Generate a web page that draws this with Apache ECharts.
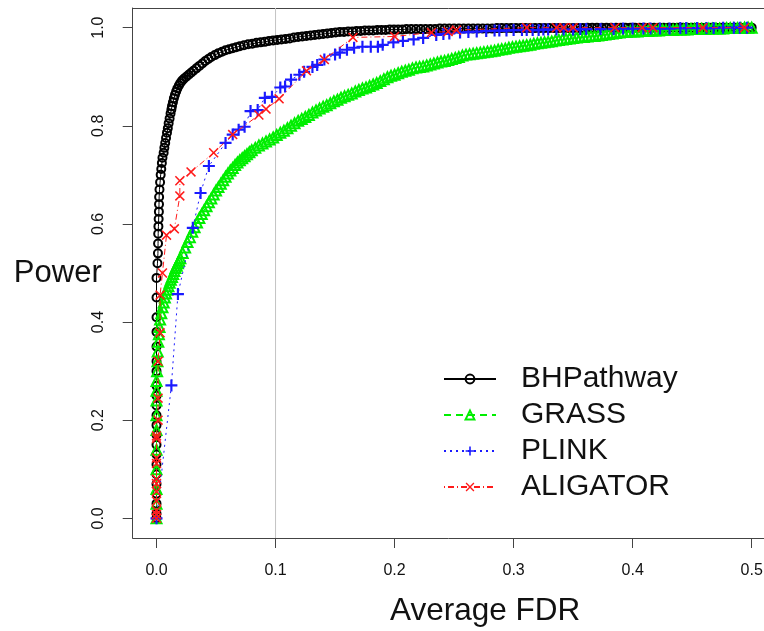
<!DOCTYPE html>
<html>
<head>
<meta charset="utf-8">
<script src="https://cdn.jsdelivr.net/npm/echarts@6/dist/echarts.min.js"></script>
<style>html,body{margin:0;padding:0;background:#fff}#chart{width:764px;height:631px}</style>
</head>
<body>
<div id="chart"></div>
<script>
const xTicks = [0, 0.1, 0.2, 0.3, 0.4, 0.5];
const yTicks = [0, 0.2, 0.4, 0.6, 0.8, 1.0];
const refLineX = [0.1];
const seriesNames = ['BHPathway', 'GRASS', 'PLINK', 'ALIGATOR'];

const bhPathway = [
[0,0],[0,0.01],[0,0.03],[0,0.05],[0,0.07],[0,0.09],[0,0.11],[0,0.13],[0,0.15],[0,0.17],[0,0.19],[0,0.21],[0,0.23],[0,0.25],[0,0.27],[0,0.3],[0,0.32],[0,0.35],[0,0.38],[0,0.41],[0,0.45],[0,0.49],
[0.0008,0.52],[0.0012,0.54],[0.0013,0.56],[0.0014,0.58],[0.0016,0.595],[0.0018,0.61],[0.002,0.625],[0.0021,0.64],[0.0022,0.655],[0.0025,0.67],[0.003,0.685],[0.0035,0.7],[0.004,0.712],[0.0045,0.724],[0.005,0.735],[0.006,0.745],[0.0066,0.755],[0.0073,0.765],[0.008,0.775],[0.0088,0.786],[0.0095,0.795],[0.0102,0.805],[0.011,0.815],[0.0118,0.825],[0.0125,0.833],[0.013,0.84],[0.0138,0.848],[0.0146,0.856],[0.0155,0.863],[0.0165,0.87],[0.0175,0.876],[0.0188,0.882],[0.02,0.887],[0.0215,0.892],[0.023,0.896],[0.025,0.9],[0.027,0.904],[0.029,0.908],[0.031,0.912],[0.0335,0.917],[0.036,0.922],[0.0385,0.927],[0.041,0.932],[0.0435,0.936],[0.046,0.94],[0.049,0.944],[0.052,0.948],[0.055,0.951],[0.058,0.954],[0.061,0.956],[0.064,0.958],[0.067,0.96],[0.07,0.962],[0.0735,0.964],[0.077,0.966],[0.0805,0.967],[0.084,0.969],[0.0875,0.97],[0.091,0.971],[0.0945,0.973],[0.098,0.974],[0.1015,0.975],[0.105,0.976],[0.1085,0.977],[0.112,0.978],[0.1155,0.98],[0.119,0.981],[0.1225,0.982],[0.126,0.983],[0.1295,0.984],[0.133,0.985],[0.1365,0.986],[0.14,0.987],[0.1435,0.988],[0.147,0.989],[0.1505,0.99],[0.154,0.991],[0.1575,0.991],[0.161,0.992],[0.1645,0.992],[0.168,0.993],[0.1715,0.993],[0.175,0.994],[0.1785,0.994],[0.182,0.994],[0.1855,0.995],[0.189,0.995],[0.1925,0.995],[0.196,0.996],[0.1995,0.996],[0.203,0.996],[0.2065,0.996],[0.21,0.997],[0.214,0.997],[0.218,0.997],[0.222,0.997],[0.226,0.997],[0.23,0.997],[0.234,0.997],[0.238,0.998],[0.242,0.998],[0.246,0.998],[0.25,0.998],[0.254,0.998],[0.258,0.998],[0.262,0.998],[0.266,0.998],[0.27,0.998],[0.274,0.998],[0.278,0.998],[0.282,0.998],[0.286,0.999],[0.29,0.999],[0.294,0.999],[0.298,0.999],[0.302,0.999],[0.306,0.999],[0.31,0.999],[0.314,0.999],[0.318,0.999],[0.322,0.999],[0.326,0.999],[0.33,0.999],[0.334,0.999],[0.338,0.999],[0.342,0.999],[0.346,0.999],[0.35,0.999],[0.354,0.999],[0.358,0.999],[0.362,1],[0.366,1],[0.37,1],[0.374,1],[0.378,1],[0.382,1],[0.386,1],[0.39,1],[0.394,1],[0.398,1],[0.402,1],[0.406,1],[0.41,1],[0.414,1],[0.418,1],[0.422,1],[0.426,1],[0.43,1],[0.434,1],[0.438,1],[0.442,1],[0.446,1],[0.45,1],[0.454,1],[0.458,1],[0.462,1],[0.466,1],[0.47,1],[0.474,1],[0.478,1],[0.482,1],[0.486,1],[0.49,1],[0.494,1],[0.498,1],[0.5,1]
];

const grass = [
[0,0],[0,0.03],[0,0.06],[0,0.1],[0,0.14],[0,0.18],[0,0.21],[0,0.24],[0,0.26],[0,0.28],[0.0005,0.3],[0.0008,0.32],[0.001,0.34],[0.0015,0.36],[0.002,0.375],[0.0025,0.39],[0.003,0.405],[0.004,0.418],[0.005,0.43],[0.006,0.44],[0.007,0.45],[0.008,0.458],[0.009,0.466],[0.01,0.473],[0.011,0.48],[0.012,0.486],[0.013,0.492],[0.014,0.498],[0.015,0.504],[0.016,0.51],[0.017,0.515],[0.018,0.52],[0.019,0.525],[0.02,0.53],[0.022,0.541],[0.024,0.552],[0.026,0.563],[0.028,0.573],[0.03,0.584],[0.032,0.593],[0.034,0.603],[0.036,0.612],[0.038,0.62],[0.04,0.628],[0.042,0.636],[0.044,0.644],[0.046,0.652],[0.048,0.66],[0.05,0.668],[0.052,0.675],[0.054,0.682],[0.056,0.689],[0.058,0.696],[0.06,0.703],[0.062,0.709],[0.064,0.714],[0.066,0.72],[0.068,0.725],[0.07,0.73],[0.072,0.734],[0.074,0.738],[0.076,0.742],[0.078,0.746],[0.08,0.75],[0.083,0.755],[0.086,0.76],[0.089,0.764],[0.092,0.768],[0.095,0.772],[0.098,0.776],[0.101,0.781],[0.104,0.786],[0.107,0.79],[0.11,0.795],[0.113,0.8],[0.116,0.805],[0.119,0.81],[0.122,0.814],[0.125,0.818],[0.128,0.822],[0.131,0.827],[0.134,0.831],[0.137,0.835],[0.14,0.839],[0.143,0.842],[0.146,0.846],[0.149,0.85],[0.152,0.853],[0.155,0.857],[0.158,0.86],[0.161,0.863],[0.164,0.866],[0.167,0.87],[0.17,0.873],[0.173,0.876],[0.176,0.878],[0.179,0.881],[0.182,0.884],[0.185,0.887],[0.188,0.891],[0.191,0.895],[0.194,0.899],[0.197,0.902],[0.2,0.904],[0.203,0.907],[0.206,0.91],[0.209,0.912],[0.212,0.914],[0.215,0.917],[0.218,0.919],[0.221,0.92],[0.224,0.921],[0.227,0.923],[0.23,0.925],[0.233,0.927],[0.236,0.929],[0.239,0.931],[0.242,0.932],[0.245,0.934],[0.248,0.936],[0.251,0.938],[0.254,0.94],[0.257,0.943],[0.26,0.945],[0.263,0.946],[0.266,0.947],[0.269,0.948],[0.272,0.949],[0.275,0.95],[0.278,0.951],[0.281,0.952],[0.284,0.953],[0.287,0.955],[0.29,0.956],[0.293,0.957],[0.296,0.959],[0.299,0.96],[0.302,0.961],[0.305,0.962],[0.308,0.963],[0.311,0.964],[0.314,0.965],[0.317,0.967],[0.32,0.968],[0.323,0.969],[0.326,0.97],[0.329,0.971],[0.332,0.972],[0.335,0.974],[0.338,0.975],[0.341,0.976],[0.344,0.977],[0.347,0.978],[0.35,0.979],[0.353,0.98],[0.356,0.981],[0.359,0.981],[0.362,0.982],[0.365,0.983],[0.368,0.983],[0.371,0.984],[0.374,0.985],[0.377,0.986],[0.38,0.987],[0.383,0.988],[0.386,0.989],[0.389,0.99],[0.392,0.991],[0.395,0.991],[0.398,0.992],[0.401,0.992],[0.404,0.992],[0.407,0.993],[0.41,0.993],[0.413,0.993],[0.416,0.994],[0.419,0.994],[0.422,0.994],[0.425,0.995],[0.428,0.995],[0.431,0.995],[0.434,0.995],[0.437,0.996],[0.44,0.996],[0.443,0.996],[0.446,0.996],[0.449,0.997],[0.452,0.997],[0.455,0.997],[0.458,0.997],[0.461,0.997],[0.464,0.998],[0.467,0.998],[0.47,0.998],[0.473,0.998],[0.476,0.998],[0.479,0.999],[0.482,0.999],[0.485,0.999],[0.488,0.999],[0.491,0.999],[0.494,1],[0.497,1],[0.5,1]
];

const plink = [
[0,0],[0.0125,0.271],[0.018,0.457],[0.0305,0.592],[0.037,0.663],[0.044,0.718],[0.058,0.765],[0.064,0.782],[0.069,0.792],[0.074,0.798],[0.079,0.83],[0.085,0.832],[0.091,0.857],[0.097,0.859],[0.104,0.878],[0.108,0.88],[0.113,0.894],[0.12,0.904],[0.124,0.91],[0.131,0.92],[0.135,0.924],[0.141,0.935],[0.15,0.945],[0.154,0.949],[0.16,0.955],[0.166,0.959],[0.173,0.961],[0.18,0.961],[0.186,0.961],[0.19,0.965],[0.199,0.97],[0.207,0.973],[0.216,0.976],[0.224,0.979],[0.235,0.985],[0.241,0.987],[0.246,0.988],[0.255,0.99],[0.262,0.991],[0.269,0.992],[0.277,0.993],[0.284,0.994],[0.288,0.994],[0.294,0.994],[0.3,0.995],[0.307,0.995],[0.311,0.995],[0.316,0.995],[0.321,0.995],[0.325,0.996],[0.329,0.996],[0.336,0.996],[0.342,0.996],[0.35,0.996],[0.356,0.997],[0.361,0.997],[0.373,0.997],[0.384,0.997],[0.392,0.998],[0.4,0.998],[0.409,0.998],[0.415,0.998],[0.423,0.998],[0.431,0.998],[0.44,0.999],[0.445,0.999],[0.454,0.999],[0.462,0.999],[0.468,0.999],[0.476,1],[0.485,1],[0.49,1],[0.496,1]
];

const aligator = [
[0,0],[0,0.008],[0,0.016],[0,0.035],[0,0.055],[0,0.071],[0,0.08],[0,0.112],[0,0.123],[0,0.163],[0,0.168],[0.0013,0.2],[0.0013,0.245],[0.0013,0.32],[0.003,0.378],[0.003,0.455],[0.005,0.5],[0.0084,0.577],[0.015,0.59],[0.0196,0.657],[0.0196,0.688],[0.029,0.706],[0.048,0.745],[0.064,0.782],[0.086,0.822],[0.092,0.834],[0.103,0.855],[0.126,0.912],[0.141,0.935],[0.165,0.98],[0.2,0.982],[0.231,0.99],[0.245,0.992],[0.252,0.995],[0.311,1],[0.336,1],[0.342,1],[0.35,1],[0.385,1],[0.408,1],[0.417,1],[0.459,1],[0.494,1]
];

const FONT = 'Liberation Sans, Arial, Helvetica, sans-serif';
const PLUS = 'path://M4.1,0H5.9V4.1H10V5.9H5.9V10H4.1V5.9H0V4.1H4.1Z';
const CROSS = 'path://M0,1.1L1.1,0L5,3.9L8.9,0L10,1.1L6.1,5L10,8.9L8.9,10L5,6.1L1.1,10L0,8.9L3.9,5Z';
const BOX = '#444';

const chart = echarts.init(document.getElementById('chart'), null, {renderer: 'canvas'});
chart.setOption({
  animation: false,
  backgroundColor: '#ffffff',
  textStyle: {fontFamily: FONT},
  grid: {left: 132.7, top: 8, width: 642.8, height: 530, show: false,
         containLabel: false, outerBoundsMode: 'none'},
  xAxis: [{
    type: 'value', min: -0.02, max: 0.52, position: 'bottom',
    axisLine: {show: true, onZero: false, lineStyle: {color: BOX, width: 1}}, splitLine: {show: false},
    axisTick: {show: true, inside: false, length: 10, lineStyle: {color: BOX}, customValues: xTicks},
    axisLabel: {customValues: xTicks, formatter: v => v.toFixed(1), fontSize: 16, color: '#111', margin: 25, fontFamily: FONT},
    name: 'Average FDR', nameLocation: 'middle', nameGap: 57, nameMoveOverlap: false,
    nameTextStyle: {fontSize: 31.5, color: '#111', fontFamily: FONT, padding: [0, 0, 0, 62]}
  }, {
    type: 'value', min: -0.02, max: 0.52, position: 'top',
    axisLine: {show: true, onZero: false, lineStyle: {color: BOX, width: 1}},
    axisTick: {show: false}, axisLabel: {show: false}, splitLine: {show: false}
  }],
  yAxis: {
    type: 'value', min: -0.04, max: 1.04,
    axisLine: {show: true, onZero: false, lineStyle: {color: BOX, width: 1}}, splitLine: {show: false},
    axisTick: {show: true, inside: false, length: 10, lineStyle: {color: BOX}, customValues: yTicks},
    axisLabel: {customValues: yTicks, formatter: v => v.toFixed(1), fontSize: 16, color: '#111', margin: 26, rotate: 90, fontFamily: FONT},
    name: 'Power', nameLocation: 'middle', nameRotate: 0, nameGap: 31, nameMoveOverlap: false,
    nameTextStyle: {fontSize: 31, color: '#111', fontFamily: FONT, padding: [8, 0, 0, 0]}
  },
  legend: {
    orient: 'vertical', left: 443, top: 361, padding: 0,
    itemWidth: 52, itemHeight: 11, itemGap: 0,
    data: seriesNames,
    textStyle: {fontSize: 30, color: '#111', fontFamily: FONT, lineHeight: 36, padding: [0, 0, 0, 20]}
  },
  series: [
    {
      name: 'ref', type: 'line', z: 1, silent: true, showSymbol: false,
      data: [[refLineX[0], -0.04], [refLineX[0], 1.04]],
      lineStyle: {color: '#c4c4c4', width: 1}
    },
    {
      name: 'BHPathway', type: 'line', z: 2, data: bhPathway, showAllSymbol: true,
      symbol: 'circle', symbolSize: 8,
      itemStyle: {color: 'transparent', borderColor: '#000', borderWidth: 2},
      lineStyle: {color: '#000', width: 1, type: 'solid'}
    },
    {
      name: 'GRASS', type: 'line', z: 3, data: grass, showAllSymbol: true,
      symbol: 'triangle', symbolSize: 10,
      itemStyle: {color: 'transparent', borderColor: '#00ee00', borderWidth: 2},
      lineStyle: {color: '#00ee00', width: 1, type: [7, 5]}
    },
    {
      name: 'PLINK', type: 'line', z: 4, data: plink, showAllSymbol: true,
      symbol: PLUS, symbolSize: 12,
      itemStyle: {color: '#1a1aff', borderWidth: 0},
      lineStyle: {color: '#1a1aff', width: 1, type: [2, 4]}
    },
    {
      name: 'ALIGATOR', type: 'line', z: 5, data: aligator, showAllSymbol: true,
      symbol: CROSS, symbolSize: 10,
      itemStyle: {color: '#ff1a1a', borderWidth: 0},
      lineStyle: {color: '#ff1a1a', width: 1, type: [1, 3, 6, 3]}
    }
  ]
});
</script>
</body>
</html>
